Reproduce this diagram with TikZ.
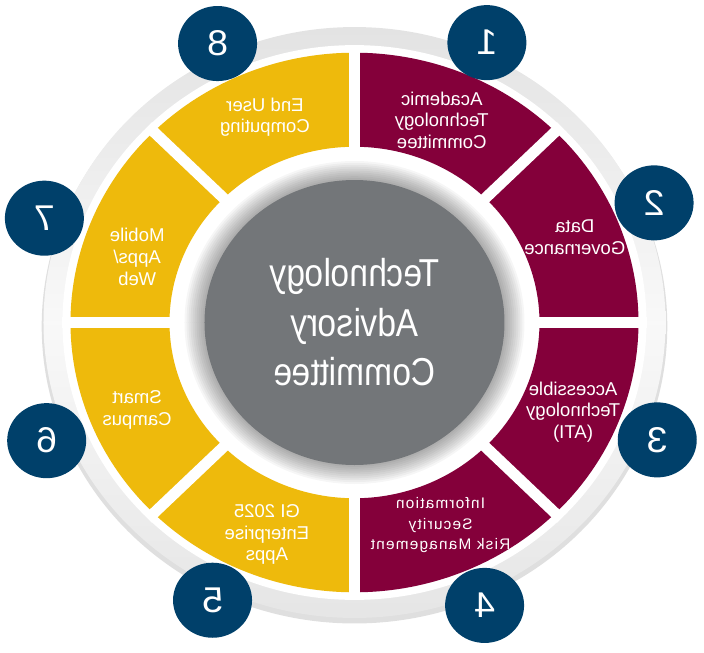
\documentclass[tikz,border=0pt]{standalone}
\usepackage{fontspec}
\setmainfont{Liberation Sans}
\usepackage{tikz}
\definecolor{tacmaroon}{RGB}{132,0,58}
\definecolor{tacgold}{RGB}{238,186,12}
\definecolor{tacgray}{RGB}{115,118,121}
\definecolor{tacnavy}{RGB}{0,64,106}
\tikzset{mirrored/.style={xscale=-1},
  badge/.style={circle, fill=tacnavy, text=white, minimum size=1.975cm, inner sep=0pt,
    font=\fontsize{26.8}{26.8}\selectfont, mirrored, yscale=0.95},
  seglabel/.style={text=white, align=center, font=\fontsize{13.2}{15.4}\selectfont, mirrored},
  smalllabel/.style={seglabel, font=\fontsize{10.9}{14.8}\selectfont\addfontfeature{LetterSpace=8}},
  hublabel/.style={text=white, align=center, font=\fontsize{27.7}{35.2}\selectfont, xscale=-0.86}}

\begin{document}
\begin{tikzpicture}[xscale=-1, yscale=0.95]
      \useasboundingbox (-8.7375, -8.697) rectangle (8.8625, 8.487);
      \fill [gray!25] (0, -0.1) circle [radius=7.82];
      \shade [top color=gray!22, bottom color=gray!20, middle color=gray!5] (0, 0) circle [radius=7.775];
      \fill [white] (0, 0) circle [radius=7.3];
      \foreach \i/\col in {1/tacmaroon, 2/tacmaroon, 3/tacmaroon, 4/tacmaroon, 5/tacgold, 6/tacgold, 7/tacgold, 8/tacgold}
        \fill [\col] (45*\i+45:4.625) arc (45*\i+45:45*\i+90:4.625) -- (45*\i+90:7.1) arc (45*\i+90:45*\i+45:7.1) -- cycle;
      \foreach \a in {0, 45, ..., 315}
        \draw [white, line width=0.275cm] (\a:4.4) -- (\a:7.3);
      \foreach \k in {1, ..., 10}
        \fill [black, opacity=0.035] (0, 0) circle [radius=3.75+0.05*\k];
      \fill [tacgray] (0, 0) circle [radius=3.75];

      \node [hublabel] (hub) at (0, 0) {Technology\\Advisory\\Committee};

      \node [seglabel] (s1) at (112.3:5.75) {Academic\\Technology\\Committee};
      \node [seglabel] (s2) at (157.8:5.95) {Data\\Governance};
      \node [seglabel] (s3) at (203.3:5.95) {Accessible\\Technology\\(ATI)};
      \node [smalllabel] (s4) at (248:5.75) {Information\\Security\\Risk Management};
      \node [seglabel] (s5) at (291.4:6.0) {GI 2025\\Enterprise\\Apps};
      \node [seglabel] (s6) at (337.1:5.9) {Smart\\Campus};
      \node [seglabel] (s7) at (17.6:5.7) {Mobile\\Apps/\\Web};
      \node [seglabel] (s8) at (67.5:5.85) {End User\\Computing};

      \foreach \n/\a/\r in {1/114.2/8.075, 2/157.2/8.125, 3/202.2/8.175, 4/246.4/8.125,
                            5/295.9/8.125, 6/338/8.3, 7/19.5/8.225, 8/65/8.1}
        \node [badge] (b\n) at (\a:\r) {\n};
    \end{tikzpicture}
\end{document}
